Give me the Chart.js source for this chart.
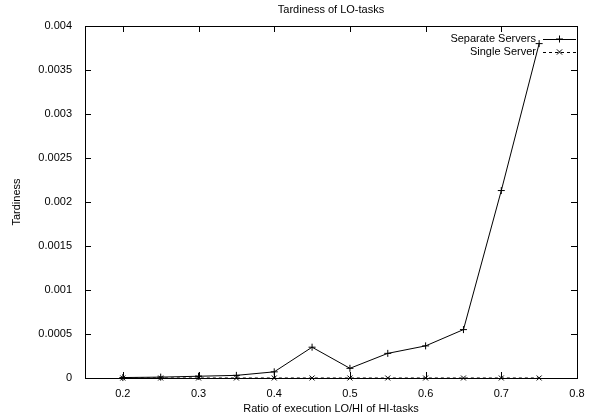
<!DOCTYPE html>
<html>
<head>
<meta charset="utf-8">
<script src="https://cdn.jsdelivr.net/npm/chart.js@4"></script>
<style>
  html, body { margin: 0; padding: 0; background: #fff; }
  #wrap { width: 598px; height: 418px; }
</style>
</head>
<body>
<div id="wrap"><canvas id="chart" width="598" height="418"></canvas></div>
<script>
  // values
  const ratios = [0.2, 0.25, 0.3, 0.35, 0.4, 0.45, 0.5, 0.55, 0.6, 0.65, 0.7, 0.75];
  const separateServers = [0.000005, 0.00001, 0.00002, 0.00003, 0.00007, 0.00035, 0.00011, 0.00028, 0.000365, 0.00055, 0.00213, 0.0038];
  const singleServer = [0, 0, 0, 0, 0, 0, 0, 0, 0, 0, 0, 0];

  const xTicks = [0.2, 0.3, 0.4, 0.5, 0.6, 0.7, 0.8];
  const yTicks = [0, 0.0005, 0.001, 0.0015, 0.002, 0.0025, 0.003, 0.0035, 0.004];

  const FONT = { family: "'Liberation Sans', Arial, sans-serif", size: 11 };

  const toPoints = (vals) => ratios.map((x, i) => ({ x, y: vals[i] }));

  // gnuplot style frame: box, inward ticks on every side, title and legend
  const gnuplotFrame = {
    id: 'gnuplotFrame',
    afterDatasetsDraw(chart) {
      const { ctx, chartArea: a, scales } = chart;
      const tick = 6;
      ctx.save();
      ctx.strokeStyle = '#000';
      ctx.lineWidth = 1;
      ctx.strokeRect(a.left + 0.5, a.top + 0.5, a.right - a.left, a.bottom - a.top);

      ctx.beginPath();
      yTicks.forEach(v => {
        const y = Math.round(scales.y.getPixelForValue(v)) + 0.5;
        ctx.moveTo(a.left, y); ctx.lineTo(a.left + tick, y);
        ctx.moveTo(a.right, y); ctx.lineTo(a.right - tick, y);
      });
      xTicks.forEach(v => {
        const x = Math.round(scales.x.getPixelForValue(v)) + 0.5;
        ctx.moveTo(x, a.bottom); ctx.lineTo(x, a.bottom - tick);
        ctx.moveTo(x, a.top); ctx.lineTo(x, a.top + tick);
      });
      ctx.stroke();

      // title
      ctx.fillStyle = '#000';
      ctx.font = `${FONT.size}px ${FONT.family}`;
      ctx.textAlign = 'center';
      ctx.textBaseline = 'middle';
      ctx.fillText('Tardiness of LO-tasks', (a.left + a.right) / 2, 10);

      // legend
      const entries = [
        { label: 'Separate Servers', dash: [], style: 'cross' },
        { label: 'Single Server', dash: [3, 3], style: 'crossRot' }
      ];
      const textRight = a.right - 41;
      const x0 = a.right - 34, x1 = a.right - 1, xm = (x0 + x1) / 2;
      entries.forEach((e, i) => {
        const y = a.top + 13 + i * 13;
        ctx.textAlign = 'right';
        ctx.fillText(e.label, textRight, y);
        ctx.setLineDash(e.dash);
        ctx.beginPath();
        ctx.moveTo(x0, Math.round(y) + 0.5); ctx.lineTo(x1, Math.round(y) + 0.5);
        ctx.stroke();
        ctx.setLineDash([]);
        ctx.beginPath();
        const r = 3.5;
        if (e.style === 'cross') {
          ctx.moveTo(xm - r, y); ctx.lineTo(xm + r, y);
          ctx.moveTo(xm, y - r); ctx.lineTo(xm, y + r);
        } else {
          ctx.moveTo(xm - r * 0.75, y - r * 0.75); ctx.lineTo(xm + r * 0.75, y + r * 0.75);
          ctx.moveTo(xm - r * 0.75, y + r * 0.75); ctx.lineTo(xm + r * 0.75, y - r * 0.75);
        }
        ctx.stroke();
      });
      ctx.restore();
    }
  };

  new Chart(document.getElementById('chart'), {
    type: 'line',
    data: {
      datasets: [
        {
          label: 'Separate Servers',
          data: toPoints(separateServers),
          borderColor: '#000',
          borderWidth: 1,
          pointStyle: 'cross',
          pointRadius: 3.5,
          pointBorderColor: '#000',
          pointBorderWidth: 1,
          fill: false,
          tension: 0,
          clip: false
        },
        {
          label: 'Single Server',
          data: toPoints(singleServer),
          borderColor: '#000',
          borderWidth: 1,
          borderDash: [3, 3],
          pointStyle: 'crossRot',
          pointRadius: 3.5,
          pointBorderColor: '#000',
          pointBorderWidth: 1,
          fill: false,
          tension: 0,
          clip: false
        }
      ]
    },
    options: {
      responsive: false,
      animation: false,
      devicePixelRatio: 1,
      layout: { padding: { left: 0, top: 26, right: 21, bottom: 0 } },
      plugins: {
        legend: { display: false },
        title: { display: false },
        tooltip: { enabled: false }
      },
      scales: {
        x: {
          type: 'linear',
          min: 0.15,
          max: 0.8,
          grid: { display: false },
          border: { display: false },
          afterBuildTicks: s => { s.ticks = xTicks.map(v => ({ value: v })); },
          afterFit: s => { s.height = 40; },
          ticks: {
            color: '#000',
            font: FONT,
            padding: 1,
            maxRotation: 0,
            autoSkip: false,
            callback: v => String(+v.toFixed(2))
          },
          title: {
            display: true,
            text: 'Ratio of execution LO/HI of HI-tasks',
            color: '#000',
            font: FONT,
            padding: { top: 0, bottom: 2 }
          }
        },
        y: {
          type: 'linear',
          min: 0,
          max: 0.004,
          grid: { display: false },
          border: { display: false },
          afterBuildTicks: s => { s.ticks = yTicks.map(v => ({ value: v })); },
          afterFit: s => { s.width = 85; },
          ticks: {
            color: '#000',
            font: FONT,
            padding: 5,
            autoSkip: false,
            callback: v => String(+v.toFixed(6))
          },
          title: {
            display: true,
            text: 'Tardiness',
            color: '#000',
            font: FONT,
            padding: { top: 10, bottom: 0 }
          }
        }
      }
    },
    plugins: [gnuplotFrame]
  });
</script>
</body>
</html>
